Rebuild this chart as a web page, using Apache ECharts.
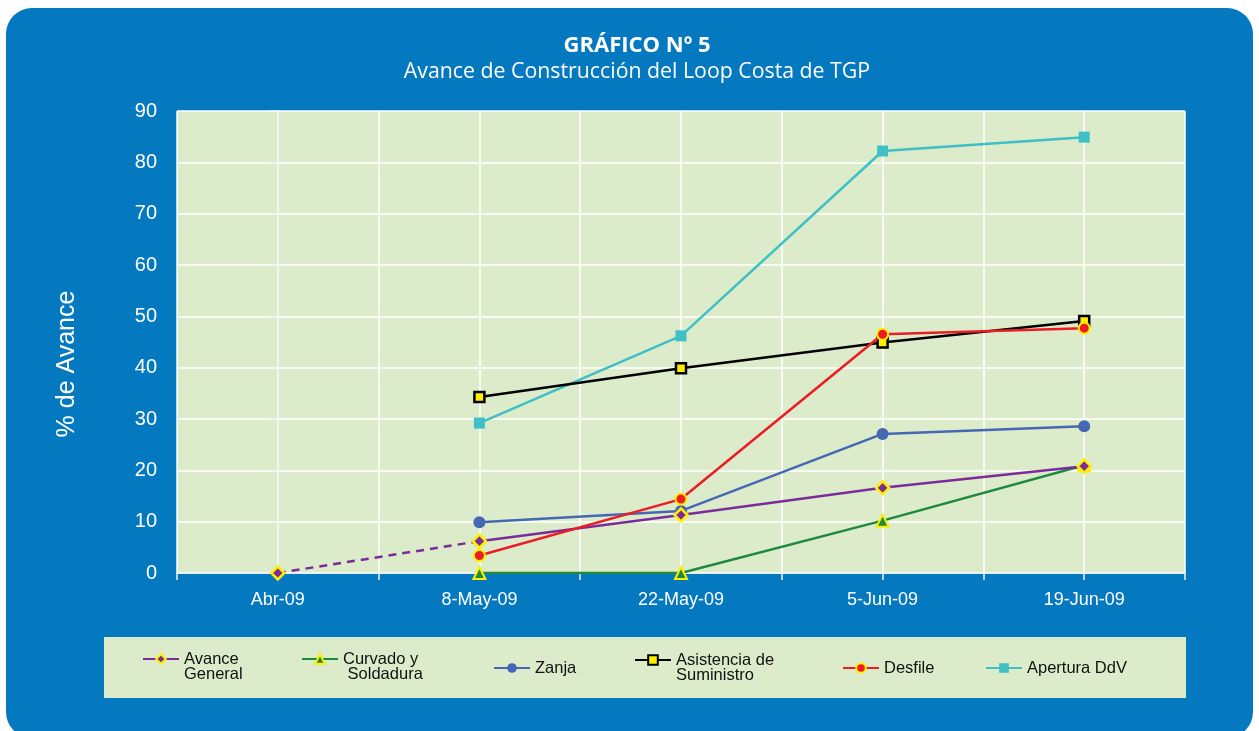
<!DOCTYPE html>
<html>
<head>
<meta charset="utf-8">
<title>Gráfico Nº 5</title>
<script src="https://cdn.jsdelivr.net/npm/echarts@6/dist/echarts.min.js"></script>
<style>
  html, body { margin: 0; padding: 0; background: #fff; }
  #main { width: 1259px; height: 731px; }
</style>
</head>
<body>
<div id="main"></div>
<script>
// categorias del eje X
var categories = ['Abr-09', '8-May-09', '22-May-09', '5-Jun-09', '19-Jun-09'];

// % de avance por fecha (null = sin dato)
var avanceGeneral = [0, 6.2, 11.3, 16.6, 20.8];
var curvado = [null, 0, 0, 10.2, 21.0];
var zanja = [null, 9.9, 12.1, 27.1, 28.6];
var asistencia = [null, 34.3, 39.9, 44.9, 49.1];
var desfile = [null, 3.4, 14.4, 46.5, 47.7];
var apertura = [null, 29.2, 46.2, 82.2, 84.9];

var yTicks = [0, 10, 20, 30, 40, 50, 60, 70, 80, 90];

// textos de la leyenda (linea vacia arriba para alinear la 1a linea con el icono)
var legendText = {
  'Avance General': '\nAvance\nGeneral',
  'Curvado y Soldadura': '\nCurvado y\n Soldadura',
  'Zanja': 'Zanja',
  'Asistencia de Suministro': '\nAsistencia de\nSuministro',
  'Desfile': 'Desfile',
  'Apertura DdV': 'Apertura DdV'
};

function pts(arr, from, to) {
  var out = [];
  for (var i = from; i <= to; i++) {
    if (arr[i] != null) out.push([i, arr[i]]);
  }
  return out;
}

var chart = echarts.init(document.getElementById('main'));

function legendAt(name, left, top) {
  return {
    data: [name],
    left: left,
    top: top,
    padding: 0,
    itemWidth: 36,
    itemHeight: 12,
    selectedMode: false,
    formatter: function (n) { return legendText[n]; },
    textStyle: {
      color: '#111',
      fontSize: 16.5,
      lineHeight: 15,
      fontFamily: 'Liberation Sans, Arial, sans-serif'
    }
  };
}

var option = {
  backgroundColor: '#ffffff',
  animation: false,
  graphic: [
    { type: 'rect', z: -10, shape: { x: 6, y: 8, width: 1247, height: 730, r: 26 }, style: { fill: '#0479c0' } },
    { type: 'rect', z: -9, shape: { x: 104, y: 637, width: 1082, height: 61 }, style: { fill: '#dcebca' } }
  ],
  title: [
    {
      text: 'GRÁFICO Nº 5',
      left: 632,
      textAlign: 'center',
      top: 30,
      textStyle: { color: '#fff', fontSize: 22, fontWeight: 'bold', fontFamily: 'Open Sans, sans-serif' }
    },
    {
      text: 'Avance de Construcción del Loop Costa de TGP',
      left: 632,
      textAlign: 'center',
      top: 56,
      textStyle: { color: '#fff', fontSize: 21.3, fontWeight: 'normal', fontFamily: 'Open Sans, sans-serif' }
    }
  ],
  legend: [
    legendAt('Avance General', 142, 635.5),
    legendAt('Curvado y Soldadura', 301, 635.5),
    legendAt('Zanja', 493, 659.5),
    legendAt('Asistencia de Suministro', 634, 636.5),
    legendAt('Desfile', 842, 659.5),
    legendAt('Apertura DdV', 985, 659.5)
  ],
  grid: {
    left: 177, right: 74, top: 111, bottom: 158,
    show: true, backgroundColor: '#dcebca', borderWidth: 0
  },
  xAxis: {
    type: 'value',
    min: -0.5,
    max: 4.5,
    interval: 0.5,
    axisLine: { show: true, lineStyle: { color: '#eef4fa', width: 1.5 } },
    axisTick: { show: true, length: 7, lineStyle: { color: '#eef4fa', width: 1.5 } },
    axisLabel: {
      color: '#fff',
      fontSize: 18,
      margin: 18,
      fontFamily: 'Liberation Sans, Arial, sans-serif',
      showMinLabel: true,
      showMaxLabel: true,
      formatter: function (v) {
        var k = Math.round(v);
        return Math.abs(v - k) < 1e-6 ? categories[k] : '';
      }
    },
    splitLine: { show: true, lineStyle: { color: '#ffffff', width: 1.5 } }
  },
  yAxis: {
    type: 'value',
    min: yTicks[0],
    max: yTicks[yTicks.length - 1],
    interval: 10,
    name: '% de Avance',
    nameLocation: 'middle',
    nameGap: 97,
    nameTextStyle: {
      color: '#fff',
      fontSize: 25,
      fontFamily: 'Liberation Sans, Arial, sans-serif',
      padding: [0, 44, 0, 0]
    },
    axisLine: { show: true, lineStyle: { color: '#eef4fa', width: 1.5 } },
    axisTick: { show: true, length: 8, lineStyle: { color: '#eef4fa', width: 1.5 } },
    axisLabel: {
      color: '#fff',
      fontSize: 20,
      margin: 20,
      fontFamily: 'Liberation Sans, Arial, sans-serif'
    },
    splitLine: { show: true, lineStyle: { color: '#ffffff', width: 1.5 } }
  },
  series: [
    {
      name: 'Avance General (inicio)',
      type: 'line',
      data: pts(avanceGeneral, 0, 1),
      symbol: 'diamond',
      symbolSize: 13,
      lineStyle: { color: '#7b2c9a', width: 2.5, type: [8, 6] },
      itemStyle: { color: '#7b2c9a', borderColor: '#ffee00', borderWidth: 2.5 },
      z: 3
    },
    {
      name: 'Curvado y Soldadura',
      type: 'line',
      data: pts(curvado, 0, 4),
      symbol: 'triangle',
      symbolSize: 12,
      lineStyle: { color: '#1f8a3d', width: 2.5 },
      itemStyle: { color: '#1f8a3d', borderColor: '#ffee00', borderWidth: 2 },
      z: 3
    },
    {
      name: 'Zanja',
      type: 'line',
      data: pts(zanja, 0, 4),
      symbol: 'circle',
      symbolSize: 12,
      lineStyle: { color: '#4668b4', width: 2.5 },
      itemStyle: { color: '#4668b4' },
      z: 4
    },
    {
      name: 'Avance General',
      type: 'line',
      data: pts(avanceGeneral, 1, 4),
      symbol: 'diamond',
      symbolSize: 13,
      lineStyle: { color: '#7b2c9a', width: 2.5 },
      itemStyle: { color: '#7b2c9a', borderColor: '#ffee00', borderWidth: 2.5 },
      z: 5
    },
    {
      name: 'Asistencia de Suministro',
      type: 'line',
      data: pts(asistencia, 0, 4),
      symbol: 'rect',
      symbolSize: 10,
      lineStyle: { color: '#000000', width: 2.5 },
      itemStyle: { color: '#ffee00', borderColor: '#000000', borderWidth: 2.5 },
      z: 4
    },
    {
      name: 'Desfile',
      type: 'line',
      data: pts(desfile, 0, 4),
      symbol: 'circle',
      symbolSize: 11,
      lineStyle: { color: '#ec1c24', width: 2.5 },
      itemStyle: { color: '#ec1c24', borderColor: '#ffee00', borderWidth: 2 },
      z: 5
    },
    {
      name: 'Apertura DdV',
      type: 'line',
      data: pts(apertura, 0, 4),
      symbol: 'rect',
      symbolSize: 11,
      lineStyle: { color: '#3fbfc6', width: 2.5 },
      itemStyle: { color: '#3fbfc6' },
      z: 3
    }
  ]
};

chart.setOption(option);
</script>
</body>
</html>
